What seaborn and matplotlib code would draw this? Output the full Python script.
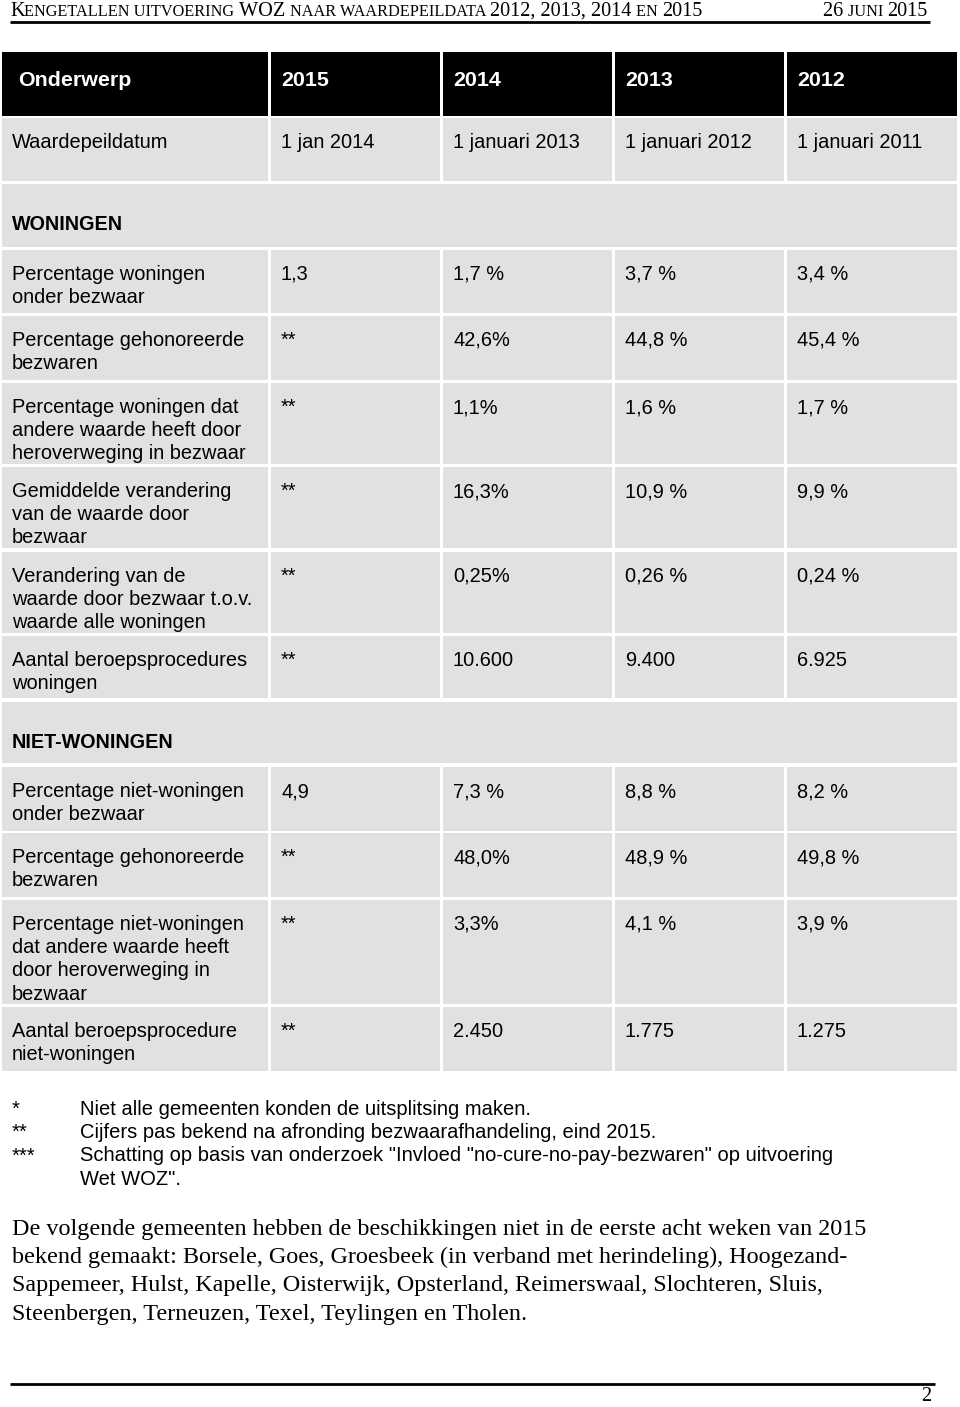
import matplotlib
matplotlib.use("Agg")
import matplotlib.pyplot as plt
from matplotlib.patches import Rectangle
from matplotlib.font_manager import FontProperties
import seaborn as sns

sns.set_theme(style="white")
plt.rcParams['font.family'] = ['Liberation Sans', 'DejaVu Sans']

# ---------------- data ----------------
title_text = "Kengetallen uitvoering WOZ naar waardepeildata 2012, 2013, 2014 en 2015"
date_text = "26 juni 2015"
columns = ["Onderwerp", "2015", "2014", "2013", "2012"]
peildatum = ["Waardepeildatum", "1 jan 2014", "1 januari 2013", "1 januari 2012", "1 januari 2011"]

section_woningen = "WONINGEN"
woningen_labels = [
    ["Percentage woningen", "onder bezwaar"],
    ["Percentage gehonoreerde", "bezwaren"],
    ["Percentage woningen dat", "andere waarde heeft door", "heroverweging in bezwaar"],
    ["Gemiddelde verandering", "van de waarde door", "bezwaar"],
    ["Verandering van de", "waarde door bezwaar t.o.v.", "waarde alle woningen"],
    ["Aantal beroepsprocedures", "woningen"],
]
woningen_2015 = ["1,3", "**", "**", "**", "**", "**"]
woningen_2014 = ["1,7 %", "42,6%", "1,1%", "16,3%", "0,25%", "10.600"]
woningen_2013 = ["3,7 %", "44,8 %", "1,6 %", "10,9 %", "0,26 %", "9.400"]
woningen_2012 = ["3,4 %", "45,4 %", "1,7 %", "9,9 %", "0,24 %", "6.925"]

section_niet = "NIET-WONINGEN"
niet_labels = [
    ["Percentage niet-woningen", "onder bezwaar"],
    ["Percentage gehonoreerde", "bezwaren"],
    ["Percentage niet-woningen", "dat andere waarde heeft", "door heroverweging in", "bezwaar"],
    ["Aantal beroepsprocedure", "niet-woningen"],
]
niet_2015 = ["4,9", "**", "**", "**"]
niet_2014 = ["7,3 %", "48,0%", "3,3%", "2.450"]
niet_2013 = ["8,8 %", "48,9 %", "4,1 %", "1.775"]
niet_2012 = ["8,2 %", "49,8 %", "3,9 %", "1.275"]

footnote_marks = ["*", "**", "***", ""]
footnote_texts = [
    "Niet alle gemeenten konden de uitsplitsing maken.",
    "Cijfers pas bekend na afronding bezwaarafhandeling, eind 2015.",
    "Schatting op basis van onderzoek \"Invloed \"no-cure-no-pay-bezwaren\" op uitvoering",
    "Wet WOZ\".",
]
paragraph_lines = [
    "De volgende gemeenten hebben de beschikkingen niet in de eerste acht weken van 2015",
    "bekend gemaakt: Borsele, Goes, Groesbeek (in verband met herindeling), Hoogezand-",
    "Sappemeer, Hulst, Kapelle, Oisterwijk, Opsterland, Reimerswaal, Slochteren, Sluis,",
    "Steenbergen, Terneuzen, Texel, Teylingen en Tholen.",
]
page_number = "2"

# ---------------- layout ----------------
W, H = 960, 1407
fig = plt.figure(figsize=(W / 100, H / 100), dpi=100)
ax = fig.add_axes([0, 0, 1, 1])
ax.set_xlim(0, W)
ax.set_ylim(H, 0)
ax.axis("off")

CELL = "#e1e1e1"
col_edges = [(2, 268), (271, 440), (443, 612), (615, 784), (787, 957)]
text_x = [12, 281, 453, 625, 797]
FS = 14.4
LINE = 23.2

renderer = fig.canvas.get_renderer()


def text_width(s, size, family, weight="normal"):
    fp = FontProperties(family=family, size=size, weight=weight)
    w1, _, _ = renderer.get_text_width_height_descent(s + "|", fp, ismath=False)
    w2, _, _ = renderer.get_text_width_height_descent("|", fp, ismath=False)
    return w1 - w2  # pixels == data units


def smallcaps(x, y, s, size, family, ratio=0.80, align="left"):
    runs = []
    for ch in s:
        small = ch.islower()
        if ch == " " and runs:
            small = runs[-1][1]
        if runs and runs[-1][1] == small:
            runs[-1][0] += ch
        else:
            runs.append([ch, small])
    runs = [(t.upper(), sm, size * ratio if sm else size) for t, sm in runs]
    total = sum(text_width(t, sz, family) for t, sm, sz in runs)
    cx = x - total if align == "right" else x
    for t, sm, sz in runs:
        ax.text(cx, y, t, fontsize=sz, family=family, va="baseline", ha="left", color="black")
        cx += text_width(t, sz, family)


# Header line
serif = ["Liberation Serif", "DejaVu Serif"]
smallcaps(10, 16, title_text, 14.6, serif)
smallcaps(928, 16, date_text, 14.6, serif, align="right")
ax.plot([10, 930], [21.5, 21.5], color="black", lw=2.0, solid_capstyle="butt")

# Table header row
for (x0, x1), tx, lab in zip(col_edges, text_x, columns):
    ax.add_patch(Rectangle((x0, 52), x1 - x0, 64, facecolor="black", edgecolor="none"))
    ax.text(tx + (6 if lab == "Onderwerp" else 0), 86, lab, fontsize=15.4, fontweight="bold",
            color="white", va="baseline", ha="left")

# Waardepeildatum row
for (x0, x1), tx, lab in zip(col_edges, text_x, peildatum):
    ax.add_patch(Rectangle((x0, 118), x1 - x0, 63, facecolor=CELL, edgecolor="none"))
    ax.text(tx, 148, lab, fontsize=FS, va="baseline", ha="left", color="black")


def section(top, bottom, label):
    ax.add_patch(Rectangle((2, top), 955, bottom - top, facecolor=CELL, edgecolor="none"))
    ax.text(12, top + 46, label, fontsize=14.2, fontweight="bold", va="baseline", ha="left", color="black")


def data_rows(rows, labels, vals):
    for (top, bottom), lab, v in zip(rows, labels, zip(*vals)):
        for (x0, x1) in col_edges:
            ax.add_patch(Rectangle((x0, top), x1 - x0, bottom - top, facecolor=CELL, edgecolor="none"))
        for i, line in enumerate(lab):
            ax.text(text_x[0], top + 30 + i * LINE, line, fontsize=FS, va="baseline", ha="left", color="black")
        for tx, val in zip(text_x[1:], v):
            ax.text(tx, top + 30, val, fontsize=FS, va="baseline", ha="left", color="black")


section(184, 247, section_woningen)
w_rows = [(250, 313), (316, 380), (383, 464), (467, 548), (552, 633), (636, 698)]
data_rows(w_rows, woningen_labels, [woningen_2015, woningen_2014, woningen_2013, woningen_2012])

section(702, 763, section_niet)
n_rows = [(767, 831), (833, 897), (900, 1004), (1007, 1071)]
data_rows(n_rows, niet_labels, [niet_2015, niet_2014, niet_2013, niet_2012])

# Footnotes
for i, (m, t) in enumerate(zip(footnote_marks, footnote_texts)):
    y = 1115 + i * 23.2
    ax.text(12, y, m, fontsize=14.5, va="baseline", ha="left", color="black")
    ax.text(80, y, t, fontsize=14.5, va="baseline", ha="left", color="black")

# Paragraph
for i, line in enumerate(paragraph_lines):
    ax.text(12, 1235 + i * 28.2, line, fontsize=17.4, family=serif, va="baseline", ha="left", color="black")

# Bottom rule and page number
ax.plot([10, 935], [1384, 1384], color="black", lw=2.0, solid_capstyle="butt")
ax.text(931, 1401, page_number, fontsize=14.5, family=serif, va="baseline", ha="right", color="black")

fig.savefig("out.png", dpi=100, facecolor="white")
